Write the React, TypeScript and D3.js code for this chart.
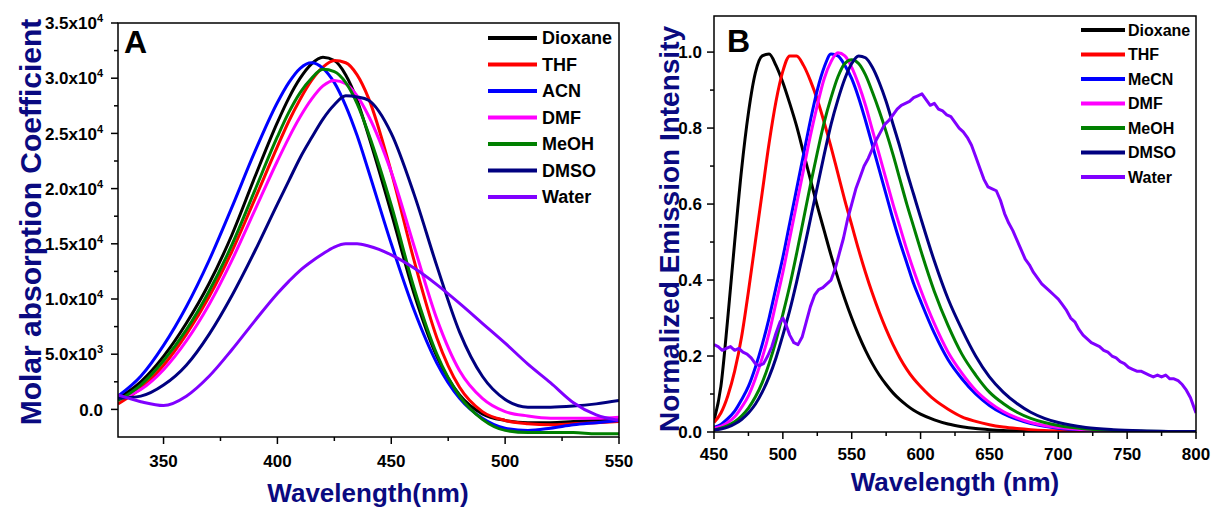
import React from 'react';
import * as d3 from 'd3';

// ---------- Panel A: absorption (values in units of 1e3) ----------
const absNm = [330, 340, 350, 360, 370, 380, 390, 400, 405, 410, 415, 420, 425, 430, 435, 440, 450, 460, 470, 480, 490, 500, 510, 520, 530, 540, 550];
const absDioxane = [1.0, 2.5, 4.8, 7.8, 11.4, 15.8, 21.0, 26.0, 28.2, 30.0, 31.3, 31.9, 31.6, 30.3, 28.0, 24.8, 17.8, 10.5, 4.8, 1.3, -0.4, -1.0, -1.2, -1.2, -1.1, -1.0, -0.9];
const absTHF = [0.5, 1.9, 4.0, 6.8, 10.2, 14.3, 19.0, 23.8, 26.1, 28.1, 29.8, 31.0, 31.6, 31.4, 30.3, 28.2, 21.5, 13.5, 6.5, 2.0, -0.2, -1.0, -1.3, -1.4, -1.3, -1.2, -1.1];
const absACN = [1.2, 3.0, 5.8, 9.3, 13.5, 18.3, 23.3, 27.8, 29.6, 30.9, 31.4, 30.9, 29.6, 27.5, 24.8, 21.6, 15.0, 9.0, 4.2, 1.0, -0.8, -1.7, -1.9, -1.7, -1.4, -1.2, -1.0];
const absDMF = [0.9, 1.8, 3.6, 6.2, 9.5, 13.5, 18.0, 22.5, 24.6, 26.5, 28.1, 29.3, 29.8, 29.5, 28.4, 26.6, 21.5, 14.8, 8.2, 3.5, 1.0, -0.2, -0.6, -0.8, -0.8, -0.8, -0.7];
const absMeOH = [0.8, 2.2, 4.4, 7.2, 10.7, 14.9, 19.8, 24.7, 26.9, 28.7, 30.0, 30.8, 30.6, 29.6, 27.7, 25.0, 18.5, 11.0, 5.0, 1.2, -0.9, -1.9, -2.1, -2.1, -2.1, -2.2, -2.2];
const absDMSO = [1.0, 1.2, 2.2, 4.0, 6.8, 10.3, 14.3, 18.6, 20.7, 22.8, 24.6, 26.3, 27.6, 28.4, 28.3, 28.0, 25.0, 19.5, 13.0, 7.0, 3.0, 0.9, 0.2, 0.2, 0.3, 0.5, 0.8];
const absWater = [1.3, 0.7, 0.35, 1.2, 3.0, 5.4, 8.0, 10.5, 11.6, 12.6, 13.4, 14.1, 14.7, 15.0, 15.0, 14.8, 14.0, 12.8, 11.3, 9.6, 7.8, 6.0, 4.1, 2.4, 0.6, -0.5, -1.0];

const absNames = ['Dioxane', 'THF', 'ACN', 'DMF', 'MeOH', 'DMSO', 'Water'];
const absXMajor = [350, 400, 450, 500, 550];
const absXMinor = [375, 425, 475, 525];
const absYMajor = [0, 5, 10, 15, 20, 25, 30, 35];
const absYMinor = [2.5, 7.5, 12.5, 17.5, 22.5, 27.5, 32.5];
const absYMant = ['0.0', '5.0x10', '1.0x10', '1.5x10', '2.0x10', '2.5x10', '3.0x10', '3.5x10'];
const absYExp = ['', '3', '4', '4', '4', '4', '4', '4'];

// ---------- Panel B: emission ----------
const emNm = [450, 455, 460, 465, 470, 475, 480, 485, 490, 495, 500, 505, 510, 515, 520, 525, 530, 535, 540, 545, 550, 555, 560, 565, 570, 575, 580, 585, 590, 595, 600, 610, 620, 630, 640, 650, 660, 670, 680, 690, 700, 720, 740, 760, 780, 800];
const emDioxane = [0.03, 0.12, 0.3, 0.5, 0.69, 0.84, 0.945, 0.99, 0.995, 0.965, 0.92, 0.865, 0.805, 0.735, 0.665, 0.595, 0.53, 0.465, 0.405, 0.35, 0.3, 0.255, 0.215, 0.18, 0.15, 0.125, 0.103, 0.085, 0.07, 0.057, 0.047, 0.032, 0.021, 0.014, 0.009, 0.006, 0.004, 0.003, 0.002, 0.0015, 0.001, 0.0005, 0, 0, 0, 0];
const emTHF = [0.025, 0.05, 0.095, 0.16, 0.25, 0.37, 0.5, 0.63, 0.76, 0.87, 0.95, 0.99, 0.99, 0.965, 0.925, 0.875, 0.815, 0.75, 0.68, 0.61, 0.545, 0.48, 0.42, 0.365, 0.315, 0.27, 0.23, 0.195, 0.165, 0.14, 0.12, 0.085, 0.06, 0.04, 0.028, 0.019, 0.013, 0.009, 0.006, 0.004, 0.003, 0.0015, 0.0008, 0.0004, 0.0002, 0];
const emMeCN = [0.012, 0.02, 0.035, 0.055, 0.085, 0.12, 0.17, 0.23, 0.3, 0.38, 0.46, 0.55, 0.64, 0.73, 0.82, 0.9, 0.96, 0.995, 0.99, 0.965, 0.93, 0.88, 0.82, 0.755, 0.69, 0.625, 0.56, 0.5, 0.445, 0.39, 0.345, 0.26, 0.19, 0.14, 0.1, 0.07, 0.048, 0.033, 0.022, 0.015, 0.01, 0.005, 0.0025, 0.0012, 0.0006, 0.0003];
const emDMF = [0.01, 0.015, 0.025, 0.04, 0.065, 0.095, 0.14, 0.195, 0.26, 0.34, 0.42, 0.51, 0.6, 0.69, 0.78, 0.86, 0.93, 0.975, 0.998, 0.99, 0.96, 0.915, 0.86, 0.795, 0.73, 0.665, 0.6, 0.54, 0.48, 0.425, 0.375, 0.285, 0.21, 0.155, 0.11, 0.078, 0.054, 0.037, 0.025, 0.017, 0.012, 0.0055, 0.0027, 0.0013, 0.0006, 0.0003];
const emMeOH = [0.005, 0.01, 0.017, 0.027, 0.042, 0.063, 0.092, 0.13, 0.18, 0.24, 0.31, 0.385, 0.47, 0.56, 0.65, 0.735, 0.815, 0.88, 0.935, 0.97, 0.98, 0.97, 0.94, 0.895, 0.845, 0.79, 0.73, 0.665, 0.6, 0.54, 0.48, 0.37, 0.28, 0.205, 0.15, 0.105, 0.075, 0.052, 0.036, 0.025, 0.017, 0.008, 0.004, 0.002, 0.001, 0.0005];
const emDMSO = [0.005, 0.008, 0.013, 0.021, 0.033, 0.05, 0.073, 0.105, 0.145, 0.195, 0.255, 0.32, 0.395, 0.475, 0.56, 0.645, 0.73, 0.81, 0.875, 0.93, 0.97, 0.99, 0.985, 0.96, 0.92, 0.87, 0.81, 0.75, 0.685, 0.625, 0.565, 0.45, 0.35, 0.27, 0.2, 0.145, 0.105, 0.075, 0.052, 0.036, 0.025, 0.012, 0.006, 0.003, 0.0015, 0.001];
const waterNm = [450, 453, 456, 459, 462, 465, 468, 471, 474, 477, 480, 483, 486, 489, 492, 495, 498, 500, 502, 505, 508, 511, 514, 517, 520, 523, 526, 529, 532, 535, 538, 541, 544, 547, 550, 553, 556, 559, 562, 565, 568, 571, 574, 577, 580, 583, 586, 589, 592, 595, 598, 601, 604, 607, 610, 613, 616, 619, 622, 625, 628, 631, 634, 637, 640, 643, 646, 649, 652, 655, 658, 661, 664, 667, 670, 673, 676, 679, 682, 685, 688, 691, 694, 697, 700, 703, 706, 709, 712, 715, 718, 721, 724, 727, 730, 733, 736, 739, 742, 745, 748, 751, 754, 757, 760, 763, 766, 769, 772, 775, 778, 781, 784, 787, 790, 793, 796, 799, 800];
const waterI = [0.23, 0.225, 0.215, 0.22, 0.225, 0.215, 0.22, 0.21, 0.205, 0.195, 0.18, 0.175, 0.18, 0.2, 0.225, 0.26, 0.29, 0.3, 0.285, 0.255, 0.235, 0.23, 0.25, 0.29, 0.33, 0.36, 0.375, 0.38, 0.39, 0.4, 0.43, 0.47, 0.51, 0.56, 0.6, 0.64, 0.67, 0.7, 0.72, 0.745, 0.77, 0.79, 0.81, 0.82, 0.835, 0.85, 0.86, 0.865, 0.87, 0.88, 0.885, 0.89, 0.875, 0.86, 0.865, 0.85, 0.845, 0.835, 0.83, 0.815, 0.8, 0.79, 0.775, 0.755, 0.725, 0.695, 0.665, 0.645, 0.64, 0.635, 0.61, 0.575, 0.55, 0.53, 0.505, 0.48, 0.455, 0.44, 0.42, 0.405, 0.39, 0.38, 0.37, 0.36, 0.35, 0.335, 0.32, 0.3, 0.29, 0.27, 0.255, 0.245, 0.235, 0.23, 0.225, 0.215, 0.21, 0.2, 0.195, 0.185, 0.18, 0.17, 0.165, 0.16, 0.16, 0.155, 0.15, 0.145, 0.15, 0.145, 0.15, 0.14, 0.14, 0.135, 0.125, 0.11, 0.09, 0.06, 0.05];

const emNames = ['Dioxane', 'THF', 'MeCN', 'DMF', 'MeOH', 'DMSO', 'Water'];
const emXMajor = [450, 500, 550, 600, 650, 700, 750, 800];
const emXMinor = [475, 525, 575, 625, 675, 725, 775];
const emYMajor = [0, 0.2, 0.4, 0.6, 0.8, 1.0];
const emYMinor = [0.1, 0.3, 0.5, 0.7, 0.9];

const colors = ['#000000', '#ff0000', '#0000ff', '#ff00ff', '#008000', '#000080', '#8000ff'];
const titleColor = '#0a0a80';
const FONT = "'Liberation Sans', Arial, sans-serif";

export default function App() {
  const xA = d3.scaleLinear().domain([330, 550]).range([118, 619]);
  const yA = d3.scaleLinear().domain([-2.5, 35]).range([437, 23]);
  const xB = d3.scaleLinear().domain([450, 800]).range([714, 1196]);
  const yB = d3.scaleLinear().domain([0, 1.095]).range([432, 16]);

  const absSeries = [absDioxane, absTHF, absACN, absDMF, absMeOH, absDMSO, absWater];
  const emSeries = [emDioxane, emTHF, emMeCN, emDMF, emMeOH, emDMSO];

  const lineA = (vals: number[]) =>
    d3.line<number>().x((_, i) => xA(absNm[i])).y((d) => yA(d)).curve(d3.curveMonotoneX)(vals) || '';
  const lineB = (vals: number[]) =>
    d3.line<number>().x((_, i) => xB(emNm[i])).y((d) => yB(d)).curve(d3.curveMonotoneX)(vals) || '';
  const lineW =
    d3.line<number>().x((_, i) => xB(waterNm[i])).y((d) => yB(d)).curve(d3.curveLinear)(waterI) || '';

  const [ax0, ax1] = xA.range();
  const [ay0, ay1] = yA.range();
  const [bx0, bx1] = xB.range();
  const [by0, by1] = yB.range();

  return (
    <div style={{ position: 'absolute', left: 0, top: 0, width: 1212, height: 509, background: '#fff' }}>
      <svg width={1212} height={509} style={{ display: 'block', fontFamily: FONT, fontWeight: 'bold' }}>
        <defs>
          <clipPath id="clipA"><rect x={ax0} y={ay1} width={ax1 - ax0} height={ay0 - ay1} /></clipPath>
          <clipPath id="clipB"><rect x={bx0} y={by1} width={bx1 - bx0} height={by0 - by1} /></clipPath>
        </defs>

        {/* ---------- Panel A ---------- */}
        <g clipPath="url(#clipA)">
          {absSeries.map((s, i) => (
            <path key={i} d={lineA(s)} fill="none" stroke={colors[i]} strokeWidth={3} strokeLinejoin="round" />
          ))}
        </g>
        <rect x={ax0} y={ay1} width={ax1 - ax0} height={ay0 - ay1} fill="none" stroke="#000" strokeWidth={1.5} />
        {absXMajor.map((v) => (
          <g key={'axM' + v}>
            <line x1={xA(v)} x2={xA(v)} y1={ay0} y2={ay0 + 7} stroke="#000" strokeWidth={1.5} />
            <text x={xA(v)} y={467} textAnchor="middle" fontSize={17} fill="#000">{v}</text>
          </g>
        ))}
        {absXMinor.map((v) => (
          <line key={'axm' + v} x1={xA(v)} x2={xA(v)} y1={ay0} y2={ay0 + 4} stroke="#000" strokeWidth={1.5} />
        ))}
        {absYMajor.map((v, i) => (
          <g key={'ayM' + v}>
            <line x1={ax0 - 7} x2={ax0} y1={yA(v)} y2={yA(v)} stroke="#000" strokeWidth={1.5} />
            <text x={103} y={yA(v)} dy="0.36em" textAnchor="end" fontSize={17} fill="#000">
              <tspan>{absYMant[i]}</tspan>
              {absYExp[i] ? <tspan dy={-7} fontSize={11}>{absYExp[i]}</tspan> : null}
            </text>
          </g>
        ))}
        {absYMinor.map((v) => (
          <line key={'aym' + v} x1={ax0 - 4} x2={ax0} y1={yA(v)} y2={yA(v)} stroke="#000" strokeWidth={1.5} />
        ))}
        <text x={124} y={53} fontSize={32} fill="#000">A</text>
        {absNames.map((n, i) => (
          <g key={'al' + n}>
            <line x1={488} x2={537} y1={38 + 26.5 * i} y2={38 + 26.5 * i} stroke={colors[i]} strokeWidth={4} />
            <text x={542} y={38 + 26.5 * i} dy="0.36em" fontSize={18} fill="#000">{n}</text>
          </g>
        ))}
        <text x={368} y={502} textAnchor="middle" fontSize={26} fill={titleColor}>Wavelength(nm)</text>
        <text transform={`translate(41,${(ay0 + ay1) / 2 - 8}) rotate(-90)`} textAnchor="middle" fontSize={30} fill={titleColor}>
          Molar absorption Coefficient
        </text>

        {/* ---------- Panel B ---------- */}
        <g clipPath="url(#clipB)">
          {emSeries.map((s, i) => (
            <path key={i} d={lineB(s)} fill="none" stroke={colors[i]} strokeWidth={3} strokeLinejoin="round" />
          ))}
          <path d={lineW} fill="none" stroke={colors[6]} strokeWidth={3} strokeLinejoin="round" />
        </g>
        <rect x={bx0} y={by1} width={bx1 - bx0} height={by0 - by1} fill="none" stroke="#000" strokeWidth={1.5} />
        {emXMajor.map((v) => (
          <g key={'bxM' + v}>
            <line x1={xB(v)} x2={xB(v)} y1={by0} y2={by0 + 7} stroke="#000" strokeWidth={1.5} />
            <text x={xB(v)} y={460} textAnchor="middle" fontSize={17} fill="#000">{v}</text>
          </g>
        ))}
        {emXMinor.map((v) => (
          <line key={'bxm' + v} x1={xB(v)} x2={xB(v)} y1={by0} y2={by0 + 4} stroke="#000" strokeWidth={1.5} />
        ))}
        {emYMajor.map((v) => (
          <g key={'byM' + v}>
            <line x1={bx0 - 7} x2={bx0} y1={yB(v)} y2={yB(v)} stroke="#000" strokeWidth={1.5} />
            <text x={702} y={yB(v)} dy="0.36em" textAnchor="end" fontSize={17} fill="#000">{v.toFixed(1)}</text>
          </g>
        ))}
        {emYMinor.map((v) => (
          <line key={'bym' + v} x1={bx0 - 4} x2={bx0} y1={yB(v)} y2={yB(v)} stroke="#000" strokeWidth={1.5} />
        ))}
        <text x={727} y={52} fontSize={32} fill="#000">B</text>
        {emNames.map((n, i) => (
          <g key={'bl' + n}>
            <line x1={1081} x2={1125} y1={30 + 24.5 * i} y2={30 + 24.5 * i} stroke={colors[i]} strokeWidth={4} />
            <text x={1128} y={30 + 24.5 * i} dy="0.36em" fontSize={16} fill="#000">{n}</text>
          </g>
        ))}
        <text x={955} y={491} textAnchor="middle" fontSize={26} fill={titleColor}>Wavelength (nm)</text>
        <text transform={`translate(679,${(by0 + by1) / 2 + 5}) rotate(-90)`} textAnchor="middle" fontSize={28} fill={titleColor}>
          Normalized Emission Intensity
        </text>
      </svg>
    </div>
  );
}
